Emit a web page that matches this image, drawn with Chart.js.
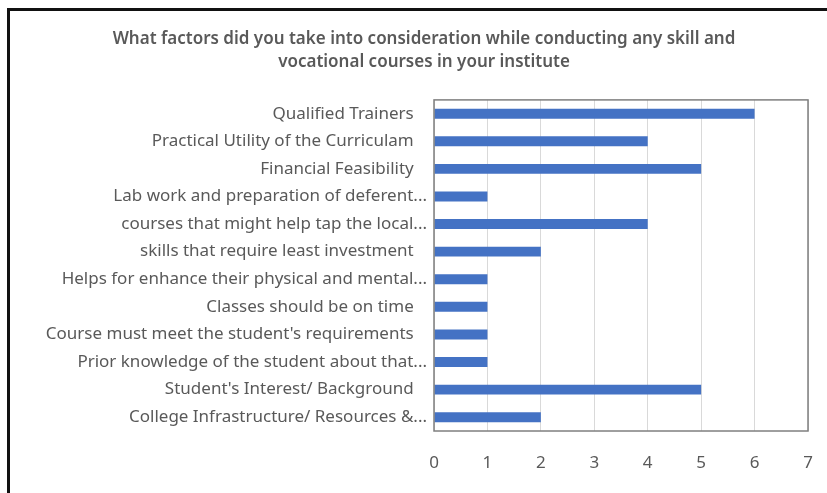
<!DOCTYPE html>
<html>
<head>
<meta charset="utf-8">
<script src="https://cdn.jsdelivr.net/npm/chart.js@4"></script>
<style>
  html, body { margin: 0; padding: 0; background: #fff; overflow: hidden; }
  #wrap { position: relative; width: 827px; height: 493px; }
  #frame {
    position: absolute; left: 7px; top: 8px; width: 900px; height: 600px;
    border: 3px solid #111; box-sizing: border-box;
  }
  canvas { position: absolute; left: 0; top: 0; }
</style>
</head>
<body>
<div id="wrap">
  <div id="frame"></div>
  <canvas id="chart" width="827" height="493"></canvas>
</div>
<script>
const categories = [
  'Qualified Trainers   ',
  'Practical Utility of the Curriculam   ',
  'Financial Feasibility   ',
  'Lab work and preparation of deferent...',
  'courses that might help tap the local...',
  'skills that require least investment   ',
  'Helps for enhance their physical and mental...',
  'Classes should be on time   ',
  "Course must meet the student's requirements   ",
  'Prior knowledge of the student about that...',
  "Student's Interest/ Background   ",
  'College Infrastructure/ Resources &...',
];
const responses = [6, 4, 5, 1, 4, 2, 1, 1, 1, 1, 5, 2];
const xTicks = [0, 1, 2, 3, 4, 5, 6, 7];

const titleLines = [
  'What factors did you take into consideration while conducting any skill and',
  'vocational courses in your institute',
];

const textColor = '#595959';
const fontFamily = '"Noto Sans", "Open Sans", sans-serif';

// outline around the plotting area
const plotBorder = {
  id: 'plotBorder',
  afterDraw(chart) {
    const { ctx, chartArea: a } = chart;
    ctx.save();
    ctx.strokeStyle = '#7f7f7f';
    ctx.lineWidth = 1.5;
    ctx.strokeRect(a.left, a.top, a.right - a.left, a.bottom - a.top);
    ctx.restore();
  },
};

new Chart(document.getElementById('chart').getContext('2d'), {
  type: 'bar',
  data: {
    labels: categories,
    datasets: [{
      data: responses,
      backgroundColor: '#4472c4',
      barPercentage: 0.9,
      categoryPercentage: 0.4,
    }],
  },
  plugins: [plotBorder],
  options: {
    indexAxis: 'y',
    responsive: false,
    animation: false,
    layout: { padding: { left: 40, right: 19, top: 28, bottom: 22 } },
    plugins: {
      legend: { display: false },
      tooltip: { enabled: false },
      title: {
        display: true,
        text: titleLines,
        color: textColor,
        font: { family: fontFamily, size: 17, weight: '600', lineHeight: 1.35 },
        padding: { top: 0, bottom: 26 },
      },
    },
    scales: {
      x: {
        min: xTicks[0],
        max: xTicks[xTicks.length - 1],
        afterBuildTicks(scale) {
          scale.ticks = xTicks.map((v) => ({ value: v }));
        },
        afterFit(scale) {
          scale.height = 40;
          scale.paddingRight = 0;
        },
        grid: { color: '#d9d9d9', drawTicks: false },
        border: { display: false },
        ticks: { color: textColor, padding: 22, maxRotation: 0, font: { family: fontFamily, size: 17 } },
      },
      y: {
        afterFit(scale) {
          scale.width = 394;
          scale.paddingTop = 0;
          scale.paddingBottom = 0;
        },
        grid: { display: false, drawTicks: false },
        border: { display: false },
        ticks: { color: textColor, padding: 7, autoSkip: false, font: { family: fontFamily, size: 17 } },
      },
    },
  },
});
</script>
</body>
</html>
